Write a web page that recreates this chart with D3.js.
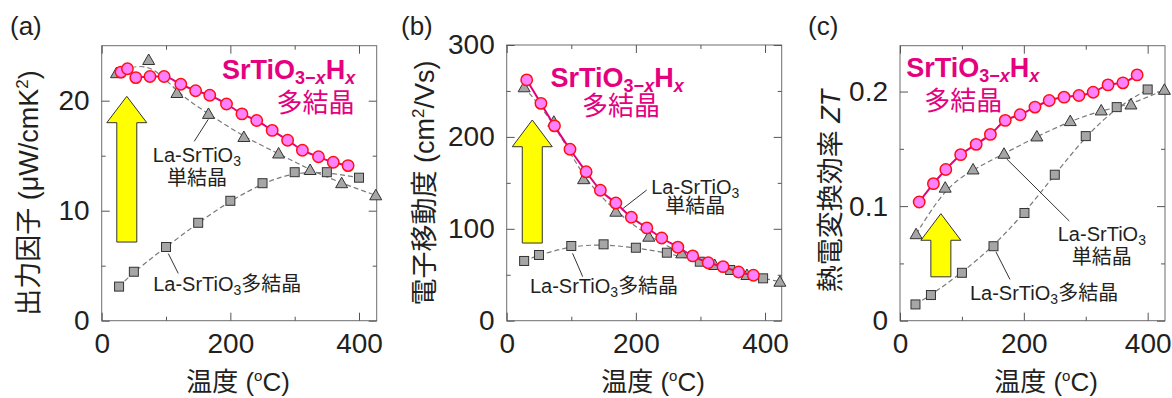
<!DOCTYPE html>
<html>
<head>
<meta charset="utf-8">
<script src="https://cdn.jsdelivr.net/npm/d3@7"></script>
<style>
  html, body { margin: 0; padding: 0; background: #fff; }
  svg text { font-family: "Liberation Sans", Arial, "Noto Sans CJK JP", sans-serif; fill: #231f20; }
</style>
</head>
<body>
<svg id="chart" width="1172" height="398"></svg>
<script>
// ---- values ----
// (a) 出力因子 (μW/cmK²)
const tempA_H = [30, 40, 53, 75, 97, 123, 146, 168, 194, 218, 241, 265, 289, 312, 337, 360, 383];
const pfA_H   = [22.6, 22.9, 22.1, 22.2, 22.2, 21.5, 20.9, 20.5, 19.7, 18.8, 18.2, 17.3, 16.4, 15.5, 14.9, 14.4, 14.1];
const tempA_S = [23, 73, 117, 166, 221, 275, 324, 373, 426];
const pfA_S   = [22.5, 23.7, 20.7, 18.8, 16.7, 15.2, 13.7, 12.5, 11.4];
const tempA_P = [27, 50, 100, 150, 200, 250, 300, 350, 400];
const pfA_P   = [3.1, 4.45, 6.7, 8.9, 10.9, 12.5, 13.5, 13.5, 13.0];

// (b) 電子移動度 (cm²/Vs)
const tempB_H = [31, 53, 74, 98, 123, 145, 169, 193, 217, 240, 265, 288, 312, 335, 359, 382];
const muB_H   = [262, 236.5, 212, 186.5, 162, 142, 128, 112.5, 101, 90, 80, 70.5, 63, 58.8, 53, 49.5];
const tempB_S = [27, 73, 119, 169, 220, 271, 322, 372, 423];
const muB_S   = [254, 216.5, 154, 118.6, 91.4, 73.3, 60.6, 49.7, 42.4];
const tempB_P = [27, 50, 100, 150, 200, 248, 299, 346, 397];
const muB_P   = [65, 71.5, 81.3, 83.1, 79.4, 74, 64.2, 55.2, 46.1];

// (c) 熱電変換効率 ZT
const tempC_H = [31, 54, 74, 98, 123, 146, 170, 194, 218, 241, 265, 289, 312, 336, 360, 383];
const ztC_H   = [0.1036, 0.1196, 0.132, 0.1449, 0.1539, 0.1626, 0.1748, 0.1797, 0.1864, 0.1922, 0.1951, 0.1965, 0.1994, 0.2058, 0.2076, 0.2145];
const tempC_S = [26, 73, 118, 168, 221, 275, 325, 373, 427];
const ztC_S   = [0.0755, 0.1161, 0.132, 0.1457, 0.1608, 0.1742, 0.1835, 0.1887, 0.2015];
const tempC_P = [25, 50, 100, 151, 201, 250, 300, 350, 400];
const ztC_P   = [0.0142, 0.0224, 0.0418, 0.065, 0.094, 0.1274, 0.1611, 0.1864, 0.2018];

const xMajor = [0, 200, 400];
const xMinor = [100, 300];

const zip = (xs, ys) => xs.map((x, i) => ({ x: x, y: ys[i] }));

const PINK = "#e4007f";
const svg = d3.select("#chart");

// title "SrTiO3−xHx"
function formula(sel) {
  sel.append("tspan").text("SrTiO");
  sel.append("tspan").attr("font-size", 18).attr("dy", 5).text("3−");
  sel.append("tspan").attr("font-size", 18).attr("font-style", "italic").text("x");
  sel.append("tspan").attr("dy", -5).text("H");
  sel.append("tspan").attr("font-size", 18).attr("dy", 5).attr("font-style", "italic").text("x");
}

// "La-SrTiO3" + optional tail
function laLabel(sel, tail) {
  sel.append("tspan").text("La-SrTiO");
  sel.append("tspan").attr("font-size", 14).attr("dy", 4).text("3");
  if (tail) sel.append("tspan").attr("dy", -4).text(tail);
}

function drawPanel(o) {
  const g = svg.append("g");
  const x = d3.scaleLinear().domain(o.xDomain).range([o.left, o.right]);
  const y = d3.scaleLinear().domain(o.yDomain).range([o.bottom, o.top]);

  // frame
  g.append("rect")
    .attr("x", o.left).attr("y", o.top)
    .attr("width", o.right - o.left).attr("height", o.bottom - o.top)
    .attr("fill", "none").attr("stroke", "#6d6d6d").attr("stroke-width", 1);

  // inward ticks on all four sides
  const xFmt = d3.format("");
  const yFmt = o.fmt || d3.format("");
  const axes = [
    [d3.axisBottom(x), `translate(0,${o.bottom})`, xMajor, xMinor, xFmt],
    [d3.axisTop(x), `translate(0,${o.top})`, xMajor, xMinor, null],
    [d3.axisLeft(y), `translate(${o.left},0)`, o.yMajor, o.yMinor, yFmt],
    [d3.axisRight(y), `translate(${o.right},0)`, o.yMajor, o.yMinor, null]
  ];
  axes.forEach(([ax, tr, major, minor, fmt]) => {
    const gm = g.append("g").attr("transform", tr)
      .call(ax.tickValues(major).tickSize(-8).tickPadding(fmt ? 12 : 0)
        .tickFormat(fmt || (() => "")));
    const gn = g.append("g").attr("transform", tr)
      .call(ax.tickValues(minor).tickSize(-4).tickFormat(() => ""));
    [gm, gn].forEach(a => {
      a.select(".domain").remove();
      a.selectAll("line").attr("stroke", "#555");
      a.selectAll("text").attr("font-size", 28).attr("fill", "#231f20");
    });
  });

  // yellow arrow
  const ar = o.arrow;
  const ax0 = x(ar.x);
  g.append("path")
    .attr("d", d3.line()([
      [ax0 - 10, y(ar.y0)], [ax0 - 10, y(ar.head)], [ax0 - 20, y(ar.head)],
      [ax0, y(ar.tip)], [ax0 + 20, y(ar.head)], [ax0 + 10, y(ar.head)], [ax0 + 10, y(ar.y0)]
    ]) + "Z")
    .attr("fill", "#ffff00").attr("stroke", "#333").attr("stroke-width", 1);

  // dashed guide curves
  const line = d3.line().x(d => x(d.x)).y(d => y(d.y));
  [o.poly, o.single].forEach(ds => {
    g.append("path").datum(ds)
      .attr("d", line.curve(d3.curveBasis))
      .attr("fill", "none").attr("stroke", "#7a7a7a")
      .attr("stroke-width", 1.2).attr("stroke-dasharray", "5,3");
  });

  // leader lines
  o.leaders.forEach(l => {
    g.append("line")
      .attr("x1", x(l[0])).attr("y1", y(l[1]))
      .attr("x2", x(l[2])).attr("y2", y(l[3]))
      .attr("stroke", "#333").attr("stroke-width", 1);
  });

  // squares
  g.selectAll(".sq").data(o.poly).enter().append("rect")
    .attr("class", "sq")
    .attr("x", d => x(d.x) - 4.5).attr("y", d => y(d.y) - 4.5)
    .attr("width", 9).attr("height", 9)
    .attr("fill", "#a6a6a6").attr("stroke", "#333").attr("stroke-width", 1);

  // triangles
  g.selectAll(".tri").data(o.single).enter().append("path")
    .attr("class", "tri")
    .attr("d", "M0,-6L6,4.5L-6,4.5Z")
    .attr("transform", d => `translate(${x(d.x)},${y(d.y)})`)
    .attr("fill", "#a6a6a6").attr("stroke", "#333").attr("stroke-width", 1);

  // SrTiO3-xHx polycrystal
  g.append("path").datum(o.hyd)
    .attr("d", line.curve(d3.curveMonotoneX))
    .attr("fill", "none").attr("stroke", PINK).attr("stroke-width", 2);
  g.selectAll(".hc").data(o.hyd).enter().append("circle")
    .attr("class", "hc")
    .attr("cx", d => x(d.x)).attr("cy", d => y(d.y)).attr("r", 5.7)
    .attr("fill", "#ff80ff").attr("stroke", "#ff1010").attr("stroke-width", 1.5);

  // texts
  const t = o.title;
  g.append("text").attr("x", x(t.x)).attr("y", y(t.y))
    .attr("text-anchor", t.anchor).attr("font-size", 27).attr("font-weight", "bold")
    .style("fill", PINK).call(formula);
  g.append("text").attr("x", x(t.x2)).attr("y", y(t.y2))
    .attr("text-anchor", t.anchor).attr("font-size", 26)
    .style("fill", PINK).text("多結晶");

  const s = o.singleLabel;
  g.append("text").attr("x", x(s.x)).attr("y", y(s.y))
    .attr("text-anchor", "middle").attr("font-size", 20).call(laLabel);
  g.append("text").attr("x", x(s.x)).attr("y", y(s.y2))
    .attr("text-anchor", "middle").attr("font-size", 20).text("単結晶");

  const p = o.polyLabel;
  g.append("text").attr("x", x(p.x)).attr("y", y(p.y))
    .attr("font-size", 20).call(laLabel, "多結晶");

  // axis titles
  g.append("text").attr("x", o.xTitle).attr("y", 391)
    .attr("text-anchor", "middle").attr("font-size", 26)
    .call(sel => {
      sel.append("tspan").text("温度 (");
      sel.append("tspan").attr("font-size", 15).attr("dy", -10).text("o");
      sel.append("tspan").attr("dy", 10).text("C)");
    });
  g.append("text")
    .attr("transform", `translate(${o.yTitle[0]},${o.yTitle[1]}) rotate(-90)`)
    .attr("text-anchor", "middle").attr("font-size", 27)
    .call(o.yTitleText);

  g.append("text").attr("x", o.tag[0]).attr("y", 35)
    .attr("font-size", 26).text(o.tag[1]);
}

drawPanel({
  left: 101.7, right: 376.7, top: 45.7, bottom: 320.7,
  xDomain: [0, 427.5], yDomain: [0, 25],
  yMajor: [0, 10, 20], yMinor: [5, 15],
  hyd: zip(tempA_H, pfA_H), single: zip(tempA_S, pfA_S), poly: zip(tempA_P, pfA_P),
  arrow: { x: 39, y0: 7.15, head: 18.0, tip: 20.4 },
  title: { x: 394, y: 21.95, x2: 393, y2: 18.95, anchor: "end" },
  singleLabel: { x: 148, y: 14.45, y2: 12.35 },
  polyLabel: { x: 80, y: 2.7 },
  leaders: [[165.6, 18.3, 143.8, 16.3], [103.6, 6.1, 119, 4.3]],
  xTitle: 238, yTitle: [38, 193], tag: [10, "(a)"],
  yTitleText: sel => {
    sel.append("tspan").text("出力因子 (μW/cmK");
    sel.append("tspan").attr("font-size", 17).attr("dy", -10).text("2");
    sel.append("tspan").attr("dy", 10).text(")");
  }
});

drawPanel({
  left: 506.7, right: 781.7, top: 45, bottom: 320.7,
  xDomain: [0, 425.8], yDomain: [0, 300],
  yMajor: [0, 100, 200, 300], yMinor: [50, 150, 250],
  hyd: zip(tempB_H, muB_H), single: zip(tempB_S, muB_S), poly: zip(tempB_P, muB_P),
  arrow: { x: 39.6, y0: 84.5, head: 189.3, tip: 218.4 },
  title: { x: 171, y: 254, x2: 177, y2: 223.5, anchor: "middle" },
  singleLabel: { x: 292, y: 137.5, y2: 117.5 },
  polyLabel: { x: 36, y: 29.8 },
  leaders: [[178, 121, 216.8, 142.2], [102, 73.3, 117.7, 47.9]],
  xTitle: 653, yTitle: [434, 183], tag: [401, "(b)"],
  yTitleText: sel => {
    sel.append("tspan").text("電子移動度 (cm");
    sel.append("tspan").attr("font-size", 17).attr("dy", -10).text("2");
    sel.append("tspan").attr("dy", 10).text("/Vs)");
  }
});

drawPanel({
  left: 900, right: 1165, top: 45.7, bottom: 320.7,
  xDomain: [0, 428], yDomain: [0, 0.24],
  yMajor: [0, 0.1, 0.2], yMinor: [0.05, 0.15],
  fmt: d => d === 0 ? "0" : d3.format(".1f")(d),
  hyd: zip(tempC_H, ztC_H), single: zip(tempC_S, ztC_S), poly: zip(tempC_P, ztC_P),
  arrow: { x: 66, y0: 0.0383, head: 0.0702, tip: 0.0934 },
  title: { x: 117.4, y: 0.2128, x2: 102.3, y2: 0.184, anchor: "middle" },
  singleLabel: { x: 326, y: 0.0696, y2: 0.0495 },
  polyLabel: { x: 113, y: 0.018 },
  leaders: [[172.3, 0.1412, 273.4, 0.087], [155, 0.06, 177.6, 0.036]],
  xTitle: 1046, yTitle: [840, 191], tag: [808, "(c)"],
  yTitleText: sel => {
    sel.append("tspan").text("熱電変換効率 ");
    sel.append("tspan").attr("font-style", "italic").text("ZT");
  }
});
</script>
</body>
</html>
